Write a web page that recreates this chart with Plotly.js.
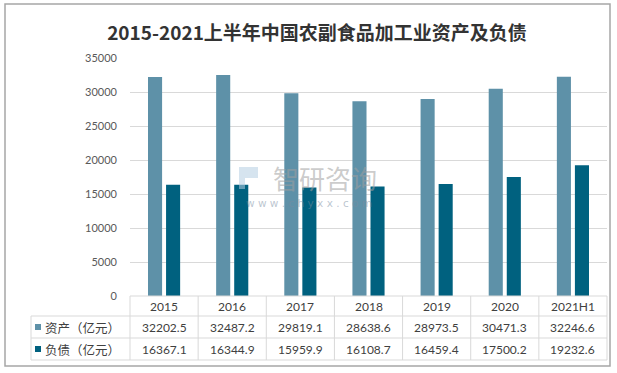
<!DOCTYPE html>
<html>
<head>
<meta charset="utf-8">
<script src="https://cdn.plot.ly/plotly-3.0.1.min.js"></script>
<style>html,body{margin:0;padding:0;background:#fff;}#chart{width:617px;height:373px;}</style>
</head>
<body>
<div id="chart"></div>
<script>
const categories = ['2015','2016','2017','2018','2019','2020','2021H1'];
const assets = [32202.5, 32487.2, 29819.1, 28638.6, 28973.5, 30471.3, 32246.6];
const liabilities = [16367.1, 16344.9, 15959.9, 16108.7, 16459.4, 17500.2, 19232.6];
const seriesNames = ['资产（亿元）', '负债（亿元）'];
const seriesValues = [assets, liabilities];
const seriesColors = ['#5E91A8', '#00617F'];
const titleText = '2015-2021上半年中国农副食品加工业资产及负债';

const W = 617, H = 373;
const M = {l: 130, r: 10, t: 58, b: 77};
const PW = W - M.l - M.r, PH = H - M.t - M.b;
const px = x => (x - M.l) / PW;          // pixel x -> paper x
const py = y => (H - M.b - y) / PH;      // pixel y -> paper y

const gridCol = '#d9d9d9';
const textCol = '#404040';
const fontFam = 'Lato, "Noto Sans CJK SC", sans-serif';

const traces = seriesNames.map((n, i) => ({
  type: 'bar', name: n, x: categories, y: seriesValues[i],
  marker: {color: seriesColors[i]}, hoverinfo: 'x+y+name'
}));

const shapes = [];
const annotations = [];
// outer border
shapes.push({type:'rect', xref:'paper', yref:'paper', x0:px(5), x1:px(610), y0:py(366), y1:py(4),
  line:{color:'#a6a6a6', width:1.5}, fillcolor:'rgba(0,0,0,0)', layer:'below'});

// table lines
const rowY = [296, 316, 338, 360];
const leftX = 31, rightX = 607;
shapes.push({type:'line', xref:'paper', yref:'paper', x0:0, x1:px(rightX), y0:py(296), y1:py(296), line:{color:gridCol, width:1}});
for (let k = 1; k < rowY.length; k++) {
  shapes.push({type:'line', xref:'paper', yref:'paper', x0:px(leftX), x1:px(rightX), y0:py(rowY[k]), y1:py(rowY[k]), line:{color:gridCol, width:1}});
}
shapes.push({type:'line', xref:'paper', yref:'paper', x0:px(leftX), x1:px(leftX), y0:py(316), y1:py(360), line:{color:gridCol, width:1}});
for (let i = 0; i <= categories.length; i++) {
  const xp = i / categories.length * (px(rightX));
  shapes.push({type:'line', xref:'paper', yref:'paper', x0:xp, x1:xp, y0:py(296), y1:py(360), line:{color:gridCol, width:1}});
}
// year row (index positions on the category axis)
categories.forEach((c, i) => {
  annotations.push({xref:'x', yref:'paper', x:i, y:py(306), text:c, showarrow:false,
    xanchor:'center', yanchor:'middle', font:{family:fontFam, size:12, color:textCol}});
});
// value rows
const rowCenters = [327, 349];
seriesValues.forEach((vals, s) => {
  vals.forEach((v, i) => {
    annotations.push({xref:'x', yref:'paper', x:i, y:py(rowCenters[s]), text:v.toFixed(1), showarrow:false,
      xanchor:'center', yanchor:'middle', font:{family:fontFam, size:12, color:textCol}});
  });
  shapes.push({type:'rect', xref:'paper', yref:'paper', x0:px(35), x1:px(41), y0:py(rowCenters[s]+3), y1:py(rowCenters[s]-3),
    line:{width:0}, fillcolor:seriesColors[s]});
  annotations.push({xref:'paper', yref:'paper', x:px(43), y:py(rowCenters[s]), text:seriesNames[s], showarrow:false,
    xanchor:'left', yanchor:'middle', font:{family:'"Noto Sans CJK SC", sans-serif', size:12.5, color:textCol}});
});

// watermark
annotations.push({xref:'paper', yref:'paper', x:px(325), y:py(177), text:'智研咨询', showarrow:false,
  xanchor:'center', yanchor:'middle', font:{family:'"Noto Sans CJK SC", sans-serif', size:26, color:'rgba(160,160,160,0.55)'}});
annotations.push({xref:'paper', yref:'paper', x:px(309), y:py(203), text:'w w w . c h y x x . c o m', showarrow:false,
  xanchor:'center', yanchor:'middle', font:{family:'"DejaVu Sans", sans-serif', size:10.5, color:'rgba(120,140,160,0.5)'}});
shapes.push({type:'path', xref:'paper', yref:'paper',
  path:`M ${px(239)} ${py(167)} L ${px(258)} ${py(167)} L ${px(258)} ${py(178)} L ${px(245)} ${py(178)} L ${px(245)} ${py(189)} L ${px(239)} ${py(189)} Z`,
  fillcolor:'rgba(180,205,225,0.55)', line:{width:0}});

const layout = {
  width: W, height: H,
  margin: M,
  paper_bgcolor: '#fff', plot_bgcolor: '#fff',
  title: {text: titleText, font:{family:'"Noto Sans CJK SC", sans-serif', size:19, color:'#333', weight:'bold'},
    xref:'container', yref:'container', x: 317/W, y: 1 - 33/H, xanchor:'center', yanchor:'middle'},
  showlegend: false,
  barmode: 'group', bargap: 0.47, bargroupgap: 0.22,
  xaxis: {type:'category', range:[-0.5, categories.length - 0.5], showticklabels:false, showgrid:false, zeroline:false, showline:false, ticks:'', fixedrange:true},
  yaxis: {range:[0, 35000], dtick:5000, tick0:0, tickformat:'d', showgrid:true, gridcolor:gridCol, gridwidth:1, zeroline:false, showline:false,
    ticks:'', ticklabelstandoff:12, tickfont:{family:fontFam, size:11, color:'#595959'}, fixedrange:true},
  shapes, annotations
};

Plotly.newPlot('chart', traces, layout, {displayModeBar:false, staticPlot:true});
</script>
</body>
</html>
